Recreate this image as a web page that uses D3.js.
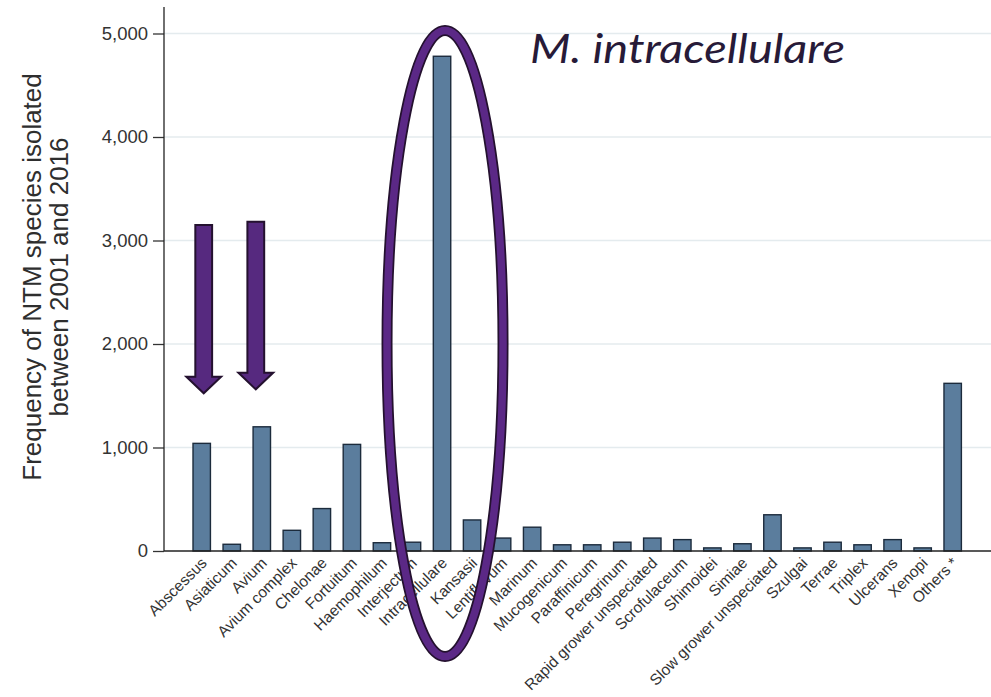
<!DOCTYPE html>
<html>
<head>
<meta charset="utf-8">
<script src="https://cdn.jsdelivr.net/npm/d3@7"></script>
<style>
  html, body { margin: 0; padding: 0; background: #ffffff; }
  svg { display: block; }
</style>
</head>
<body>
<svg id="chart" width="991" height="697"></svg>
<script>
// ---- data ----
const categories = [
  "Abscessus", "Asiaticum", "Avium", "Avium complex", "Chelonae", "Fortuitum",
  "Haemophilum", "Interjectum", "Intracellulare", "Kansasii", "Lentiflavum",
  "Marinum", "Mucogenicum", "Paraffinicum", "Peregrinum", "Rapid grower unspeciated",
  "Scrofulaceum", "Shimoidei", "Simiae", "Slow grower unspeciated", "Szulgai",
  "Terrae", "Triplex", "Ulcerans", "Xenopi", "Others *"
];
const counts = [
  1040, 65, 1200, 200, 410, 1030,
  80, 85, 4780, 300, 125,
  230, 60, 60, 85, 125,
  110, 30, 70, 350, 30,
  85, 60, 110, 30, 1620
];
const yTicks = [0, 1000, 2000, 3000, 4000, 5000];
const yTitleLines = ["Frequency of NTM species isolated", "between 2001 and 2016"];
const highlightLabel = "M. intracellulare";
// annotation arrows, in data units (category, value range)
const arrowCats = ["Abscessus", "Avium"];
const arrowTop = [3150, 3182];
const arrowHeadBase = [1684, 1723];
const arrowTip = [1524, 1562];
const ellipseCat = "Intracellulare";
const ellipseCenterValue = 2005;
const ellipseHalfSpan = 3025;

// ---- layout ----
const svg = d3.select("#chart");
const W = 991, H = 697;
const x = d3.scaleBand().domain(categories).range([186.7, 967.7])
  .paddingInner(0.42).paddingOuter(0.21);
const y = d3.scaleLinear().domain([0, 5000]).range([551, 33.5]);
const axisX = 164;

// gridlines
svg.append("g").selectAll("line").data(yTicks.filter(d => d > 0)).join("line")
  .attr("x1", axisX).attr("x2", W)
  .attr("y1", d => y(d)).attr("y2", d => y(d))
  .attr("stroke", "#e4ebee").attr("stroke-width", 1.6);

// bars
svg.append("g").selectAll("rect").data(categories).join("rect")
  .attr("x", d => x(d))
  .attr("y", (d, i) => y(counts[i]))
  .attr("width", x.bandwidth())
  .attr("height", (d, i) => y(0) - y(counts[i]))
  .attr("fill", "#5b7d9d")
  .attr("stroke", "#1c2b3c")
  .attr("stroke-width", 1.4);

// y axis
const yAxis = d3.axisLeft(y).tickValues(yTicks).tickSize(11).tickPadding(5)
  .tickFormat(d3.format(","));
const gy = svg.append("g").attr("transform", `translate(${axisX},0)`).call(yAxis);
gy.select(".domain").remove();
gy.selectAll(".tick line").attr("stroke", "#333").attr("stroke-width", 1.3);
gy.selectAll(".tick text").attr("font-family", "'Liberation Sans', Arial, sans-serif")
  .attr("font-size", 18.5).attr("fill", "#333");
svg.append("line").attr("x1", axisX).attr("x2", axisX).attr("y1", 7).attr("y2", y(0))
  .attr("stroke", "#222").attr("stroke-width", 1.3);

// x axis baseline
svg.append("line").attr("x1", axisX).attr("x2", W).attr("y1", y(0)).attr("y2", y(0))
  .attr("stroke", "#222").attr("stroke-width", 1.4);

// x labels
svg.append("g").selectAll("text").data(categories).join("text")
  .attr("transform", d => `translate(${x(d) + x.bandwidth() / 2 + 6},${y(0) + 13}) rotate(-45)`)
  .attr("text-anchor", "end")
  .attr("font-family", "'Liberation Sans', Arial, sans-serif")
  .attr("font-size", 15.5)
  .attr("fill", "#333")
  .text(d => d);

// y title
const yt = svg.append("text")
  .attr("transform", `translate(41,277) rotate(-90)`)
  .attr("text-anchor", "middle")
  .attr("font-family", "'Liberation Sans', Arial, sans-serif")
  .attr("font-size", 26)
  .attr("fill", "#2e2e2e");
yTitleLines.forEach((t, i) => {
  yt.append("tspan").attr("x", 0).attr("dy", i === 0 ? 0 : 26.6).text(t);
});

// highlight ellipse
const ex = x(ellipseCat) + x.bandwidth() / 2 + 3;
const ecy = y(ellipseCenterValue);
const ery = y(0) - y(ellipseHalfSpan);
const erx = 58;
svg.append("ellipse").attr("cx", ex).attr("cy", ecy).attr("rx", erx).attr("ry", ery)
  .attr("fill", "none").attr("stroke", "#24112f").attr("stroke-width", 11);
svg.append("ellipse").attr("cx", ex).attr("cy", ecy).attr("rx", erx).attr("ry", ery)
  .attr("fill", "none").attr("stroke", "#5b2886").attr("stroke-width", 7.5);

// arrows
const arrowOffsets = [2, -6];
arrowCats.forEach((c, i) => {
  const cx = x(c) + x.bandwidth() / 2 + arrowOffsets[i];
  const sw = 8.4, hw = 17.4;
  const pts = [
    [cx - sw, y(arrowTop[i])], [cx + sw, y(arrowTop[i])],
    [cx + sw, y(arrowHeadBase[i])], [cx + hw, y(arrowHeadBase[i])],
    [cx, y(arrowTip[i])],
    [cx - hw, y(arrowHeadBase[i])], [cx - sw, y(arrowHeadBase[i])]
  ];
  svg.append("path").attr("d", d3.line()(pts) + "Z")
    .attr("fill", "#56297f").attr("stroke", "#24112f").attr("stroke-width", 2)
    .attr("stroke-linejoin", "miter");
});

// highlight label
svg.append("text")
  .attr("x", 530).attr("y", 63)
  .attr("font-family", "Lato, 'Open Sans', sans-serif")
  .attr("font-style", "italic")
  .attr("font-size", 41)
  .attr("fill", "#271a38")
  .attr("textLength", 315)
  .attr("lengthAdjust", "spacingAndGlyphs")
  .text(highlightLabel);
</script>
</body>
</html>
